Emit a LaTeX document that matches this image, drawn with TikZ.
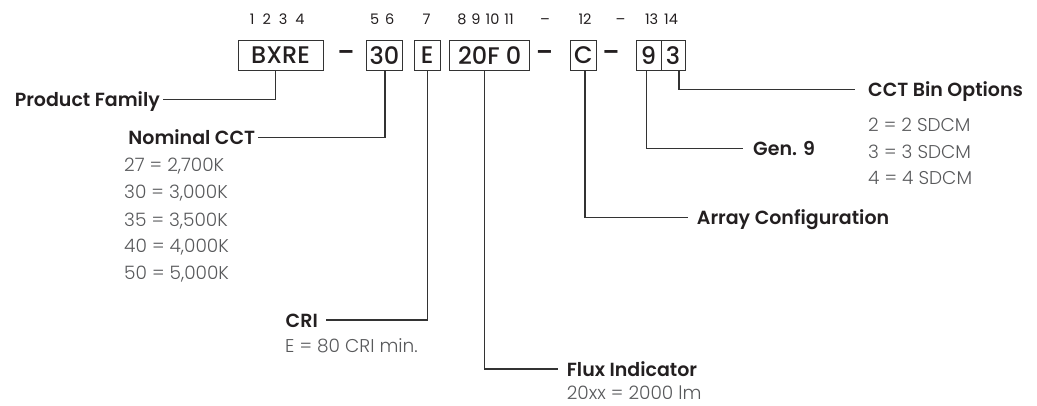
\documentclass[tikz,border=0pt]{standalone}
\usepackage{fontspec}
\setmainfont{Poppins}
\newfontfamily\lightf{Poppins Light}
\newfontfamily\semif{Poppins SemiBold}
\newfontfamily\medf{Poppins Medium}
\definecolor{textc}{HTML}{231F20}
\definecolor{valc}{HTML}{58595B}
\definecolor{linec}{HTML}{333333}
\tikzset{
  codebox/.style={draw=linec, line width=1pt, inner sep=0pt, minimum height=30pt,
    font=\medf\fontsize{24}{24}\selectfont, text=textc},
  sepdash/.style={inner sep=0pt, font=\semif\fontsize{24}{24}\selectfont, text=textc},
  lab/.style={inner ysep=0pt, text height=14pt, text depth=0pt,
    font=\semif\fontsize{19}{20}\selectfont, text=textc},
  val/.style={anchor=west, inner sep=0pt, text height=13pt, text depth=0pt,
    font=\lightf\fontsize{18.5}{19}\selectfont, text=valc},
  posnum/.style={inner sep=0pt, text height=10pt, text depth=0pt,
    font=\fontsize{14.5}{15}\selectfont, text=textc},
  lead/.style={draw=linec, line width=1.2pt}
}
\begin{document}
\begin{tikzpicture}[x=1pt,y=-1pt]
\useasboundingbox (0,0) rectangle (1037,406);
% position numbers
\node[posnum] (p1) at (277.3,20) {1\hspace{8pt}2\hspace{8pt}3\hspace{8pt}4};
\node[posnum] (p2) at (382.3,20) {5\hspace{6pt}6};
\node[posnum] (p3) at (426.7,20) {7};
\node[posnum] (p4) at (485.5,20) {8\hspace{5pt}9\hspace{5pt}10\hspace{5pt}11};
\node[posnum] (p5) at (545,20) {–};
\node[posnum] (p6) at (585,20) {12};
\node[posnum] (p7) at (620.5,20) {–};
\node[posnum] (p8) at (661.5,20) {13\hspace{6pt}14};
% code boxes
\node[codebox, minimum width=85pt] (bxre) at (280.5,55.5) {BXRE};
\node[sepdash] (d1) at (346,56) {–};
\node[codebox, minimum width=36pt] (b30) at (384.5,55.5) {30};
\node[codebox, minimum width=26pt] (bE) at (427.2,55.5) {E};
\node[codebox, minimum width=80.5pt] (b20) at (489.7,55.5) {20F 0};
\node[sepdash] (d2) at (544.5,56) {–};
\node[codebox, minimum width=25.5pt] (bC) at (583.5,55.5) {C};
\node[sepdash] (d3) at (611,56) {–};
\node[codebox, minimum width=25pt] (b9) at (648.5,55.5) {9};
\node[codebox, minimum width=24pt] (b3) at (673,55.5) {3};
% labels
\node[lab, anchor=east, inner xsep=3pt] (pf) at (163,99.7) {Product Family};
\node[lab, anchor=east, inner xsep=3pt] (ncct) at (258.3,137.5) {Nominal CCT};
\node[lab, anchor=east, inner xsep=8pt] (cri) at (326,320) {CRI};
\node[lab, anchor=west, inner xsep=8.4pt] (flux) at (558.3,369) {Flux Indicator};
\node[lab, anchor=west, inner xsep=8.4pt] (arr) at (688.3,217.3) {Array Configuration};
\node[lab, anchor=west, inner xsep=9.7pt] (gen) at (743.3,148.3) {Gen. 9};
\node[lab, anchor=west, inner xsep=13pt] (cct) at (855,89.5) {CCT Bin Options};
% values
\node[val] (v27) at (124,165.2) {27 = 2,700K};
\node[val] (v30) at (124,192.5) {30 = 3,000K};
\node[val] (v35) at (124,219.6) {35 = 3,500K};
\node[val] (v40) at (124,246.5) {40 = 4,000K};
\node[val] (v50) at (124,273.5) {50 = 5,000K};
\node[val] (vcri) at (285,346.2) {E = 80 CRI min.};
\node[val] (vflux) at (566.7,393) {20xx = 2000 lm};
\node[val] (vb2) at (868,125.2) {2 = 2 SDCM};
\node[val] (vb3) at (868,151.8) {3 = 3 SDCM};
\node[val] (vb4) at (868,178.5) {4 = 4 SDCM};
% leaders
\draw[lead] ([xshift=-5pt]bxre.south) |- (pf.east);
\draw[lead] ([xshift=0.5pt]b30.south) |- (ncct.east);
\draw[lead] (bE.south) |- (cri.east);
\draw[lead] ([xshift=-5.4pt]b20.south) |- (flux.west);
\draw[lead] ([xshift=1.5pt]bC.south) |- (arr.west);
\draw[lead] ([xshift=-2pt]b9.south) |- (gen.west);
\draw[lead] ([xshift=6pt]b3.south) |- (cct.west);
\end{tikzpicture}
\end{document}
